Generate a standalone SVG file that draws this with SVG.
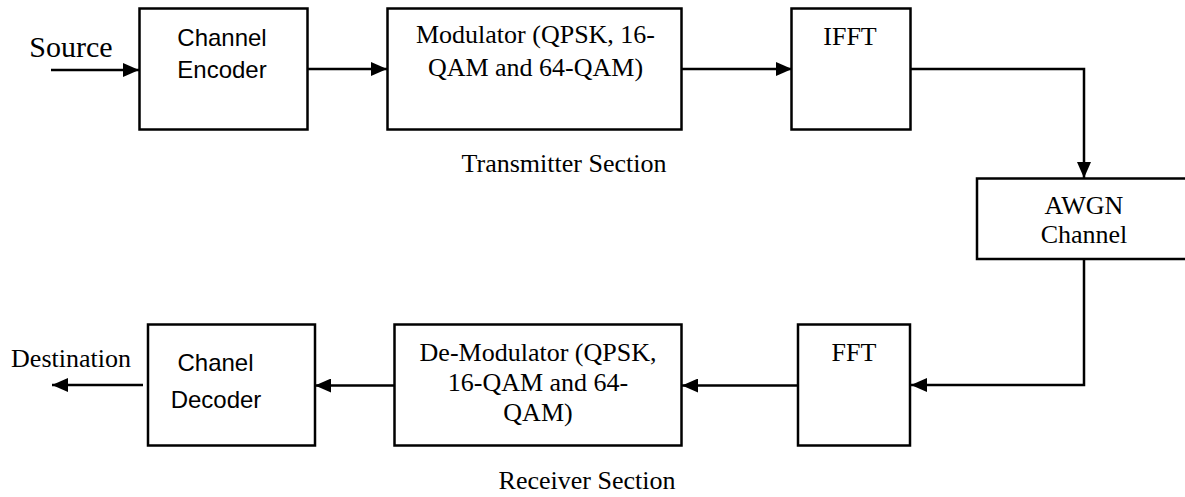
<svg xmlns="http://www.w3.org/2000/svg" width="1185" height="497" viewBox="0 0 1185 497">
<style>
.box{fill:#fff;stroke:#000;stroke-width:2.5}
.ln{fill:none;stroke:#000;stroke-width:2.5}
.t{font-family:"Liberation Serif","Times New Roman",serif;font-size:26px;fill:#000;text-anchor:middle}
.s{font-family:"Liberation Sans",Arial,sans-serif;font-size:24px;fill:#000;text-anchor:middle}
</style>
<defs>
<marker id="ah" markerUnits="userSpaceOnUse" markerWidth="16" markerHeight="14" refX="16" refY="7" orient="auto">
<path d="M0,0 L16,7 L0,14 z" fill="#000"/>
</marker>
</defs>
<rect width="1185" height="497" fill="#fff"/>
<g id="connectors">
<path class="ln" d="M51,70 H139" marker-end="url(#ah)"/>
<path class="ln" d="M307,69 H387" marker-end="url(#ah)"/>
<path class="ln" d="M682,69 H792" marker-end="url(#ah)"/>
<path class="ln" d="M911,69 H1084 V178" marker-end="url(#ah)"/>
<path class="ln" d="M1084,259 V385 H911" marker-end="url(#ah)"/>
<path class="ln" d="M798,385.5 H682" marker-end="url(#ah)"/>
<path class="ln" d="M394,385.5 H315" marker-end="url(#ah)"/>
<path class="ln" d="M143,385 H52" marker-end="url(#ah)"/>
</g>
<g id="source"><text x="71" y="57" class="t" style="font-size:30px">Source</text></g>
<g id="encoder">
<rect class="box" x="139.5" y="8.5" width="168" height="121"/>
<text class="s" x="222" y="45.5">Channel</text>
<text class="s" x="222" y="77.5">Encoder</text>
</g>
<g id="modulator">
<rect class="box" x="387.5" y="8.5" width="294" height="121"/>
<text class="t" x="535.5" y="42.5">Modulator (QPSK, 16-</text>
<text class="t" x="535.5" y="75.5">QAM and 64-QAM)</text>
</g>
<g id="ifft">
<rect class="box" x="791.5" y="8.5" width="119" height="121"/>
<text class="t" x="850" y="45">IFFT</text>
</g>
<g id="transmitter-label"><text class="t" x="564" y="171.5">Transmitter Section</text></g>
<g id="awgn">
<rect class="box" x="977" y="178.5" width="220" height="80.5"/>
<text class="t" x="1084" y="213.5">AWGN</text>
<text class="t" x="1084" y="242.5">Channel</text>
</g>
<g id="fft">
<rect class="box" x="798" y="324.5" width="112" height="121"/>
<text class="t" x="854" y="360.5">FFT</text>
</g>
<g id="demodulator">
<rect class="box" x="394.5" y="324.5" width="287" height="121"/>
<text class="t" x="538" y="360.5">De-Modulator (QPSK,</text>
<text class="t" x="538" y="390.5">16-QAM and 64-</text>
<text class="t" x="538" y="420.5">QAM)</text>
</g>
<g id="decoder">
<rect class="box" x="148" y="324.5" width="167" height="121"/>
<text class="s" x="215.5" y="371">Chanel</text>
<text class="s" x="216" y="408">Decoder</text>
</g>
<g id="destination"><text class="t" x="71" y="367">Destination</text></g>
<g id="receiver-label"><text class="t" x="587" y="489">Receiver Section</text></g>
</svg>
